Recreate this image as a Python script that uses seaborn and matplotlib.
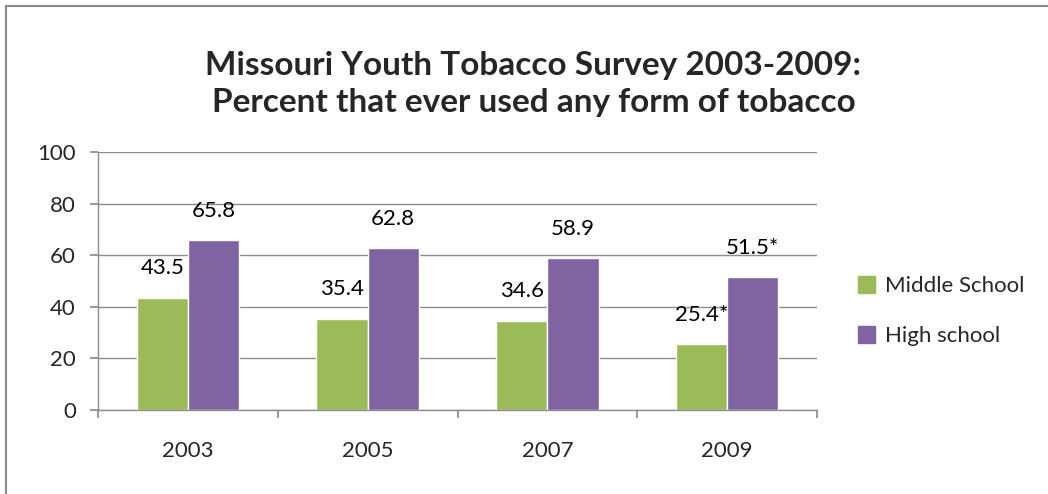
import matplotlib
matplotlib.use("Agg")
import matplotlib.pyplot as plt
import seaborn as sns
import pandas as pd
from matplotlib.patches import Rectangle
from matplotlib.lines import Line2D

years = ["2003", "2005", "2007", "2009"]
middle_school = [43.5, 35.4, 34.6, 25.4]
high_school = [65.8, 62.8, 58.9, 51.5]
middle_labels = ["43.5", "35.4", "34.6", "25.4*"]
high_labels = ["65.8", "62.8", "58.9", "51.5*"]
series_names = ["Middle School", "High school"]
title = "Missouri Youth Tobacco Survey 2003-2009:\nPercent that ever used any form of tobacco"

df = pd.DataFrame({
    "year": years * 2,
    "value": middle_school + high_school,
    "series": [series_names[0]] * 4 + [series_names[1]] * 4,
})

sns.set_theme(style="white")
plt.rcParams["font.family"] = ["Lato", "DejaVu Sans"]

fig = plt.figure(figsize=(10.48, 4.94), dpi=100)
ax = fig.add_axes([98 / 1048, 1 - 410 / 494, (817 - 98) / 1048, (410 - 152) / 494])

palette = ["#9BBB59", "#8064A2"]
sns.barplot(data=df, x="year", y="value", hue="series", palette=palette,
            width=0.57, ax=ax, legend=False, saturation=1, gap=0)

FS = 16
for cont, labs in zip(ax.containers, [middle_labels, high_labels]):
    ax.bar_label(cont, labels=labs, padding=14, fontsize=FS, color="black")

ax.set_ylim(0, 100)
ax.set_yticks([0, 20, 40, 60, 80, 100])
ax.set_xlim(-0.5, 3.5)
ax.yaxis.grid(True, color="#8c8c8c", linewidth=1)
ax.set_axisbelow(True)
ax.set_xlabel("")
ax.set_ylabel("")
for s in ["top", "right"]:
    ax.spines[s].set_visible(False)
ax.spines["left"].set_color("#8c8c8c")
ax.spines["bottom"].set_color("#8c8c8c")
ax.spines["left"].set_linewidth(1)
ax.spines["bottom"].set_linewidth(1)

# x ticks at category boundaries, labels at centers
ax.set_xticks([-0.5, 0.5, 1.5, 2.5, 3.5], minor=False)
ax.set_xticklabels([])
ax.set_xticks([0, 1, 2, 3], minor=True)
ax.set_xticklabels(years, minor=True, fontsize=FS)
ax.tick_params(axis="x", which="major", direction="out", length=6, color="#8c8c8c", bottom=True)
ax.tick_params(axis="x", which="minor", length=0, pad=22)
ax.tick_params(axis="y", direction="out", length=6, color="#8c8c8c", left=True, labelsize=FS, pad=10)

fig.text(0.509, 0.83, title, ha="center", va="center", fontsize=24,
         fontweight="bold", linespacing=1.3)

handles = [Rectangle((0, 0), 1, 1, color=c) for c in palette]
fig.legend(handles, series_names, loc="center left", bbox_to_anchor=(0.8, 0.37),
           frameon=False, fontsize=FS, handlelength=0.75, handleheight=0.75,
           handletextpad=0.45, labelspacing=1.35)

# outer frame of the original chart
fig.add_artist(Line2D([6 / 1048, 6 / 1048], [0, 1 - 6 / 494], transform=fig.transFigure,
                      color="#8a8a8a", linewidth=1.5))
fig.add_artist(Line2D([6 / 1048, 1], [1 - 6 / 494, 1 - 6 / 494], transform=fig.transFigure,
                      color="#8a8a8a", linewidth=1.5))

fig.savefig("out.png", dpi=100)
